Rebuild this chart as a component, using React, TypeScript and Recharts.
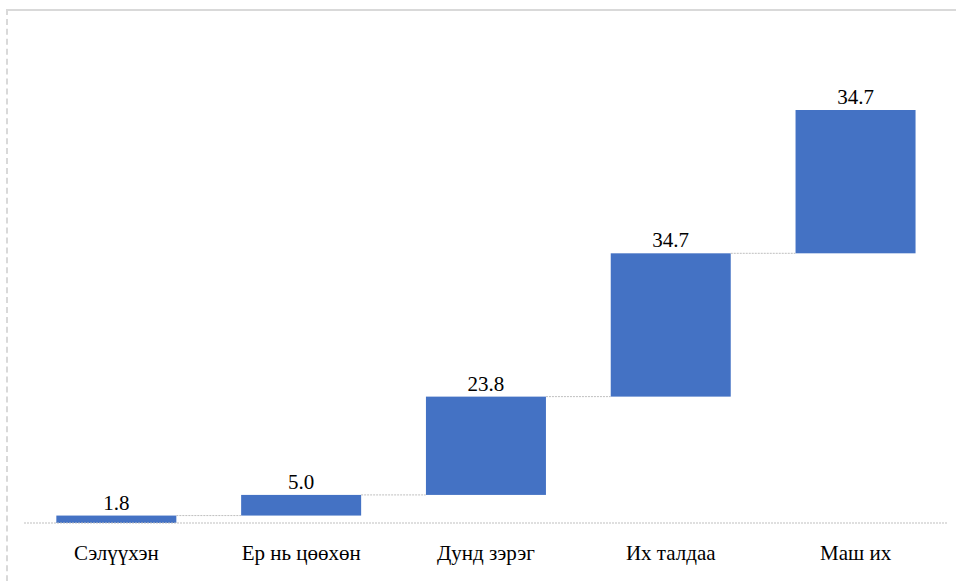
import React from 'react';
import { BarChart, Bar, XAxis, YAxis, LabelList } from 'recharts';

const categories = ['Сэлүүхэн', 'Ер нь цөөхөн', 'Дунд зэрэг', 'Их талдаа', 'Маш их'];
const values = [1.8, 5.0, 23.8, 34.7, 34.7];

const GAP_PCT = 0.175;
const BLUE = '#4472C4';
const GREY = '#bfbfbf';
const FONT = '"Times New Roman", "Liberation Serif", "DejaVu Serif", serif';

// running totals give the invisible base of each floating bar
const bases = values.map((_, i) => values.slice(0, i).reduce((a, b) => a + b, 0));

const data = categories.map((name, i) => ({
    name,
    base: bases[i],
    value: values[i],
    last: i === categories.length - 1,
}));

const WaterfallBar = (props: any) => {
    const { x, y, width, height, payload } = props;
    const band = width / (1 - 2 * GAP_PCT);
    const gap = band - width;
    return (
        <g>
            <rect x={x} y={y} width={width} height={height} fill={BLUE} />
            {!payload.last && (
                <line
                    x1={x + width}
                    x2={x + width + gap}
                    y1={y}
                    y2={y}
                    stroke={GREY}
                    strokeWidth={1}
                    strokeDasharray="2 1"
                />
            )}
        </g>
    );
};

const CatTick = (props: any) => {
    const { x, y, payload } = props;
    return (
        <text x={x} y={y} dy={17} textAnchor="middle" style={{ fontFamily: FONT, fontSize: 21 }} fill="#000">
            {payload.value}
        </text>
    );
};

const ValueLabel = (props: any) => {
    const { x, y, width, value } = props;
    return (
        <text x={x + width / 2} y={y - 6} textAnchor="middle" style={{ fontFamily: FONT, fontSize: 21 }} fill="#000">
            {Number(value).toFixed(1)}
        </text>
    );
};

const App = () => {
    return (
        <div style={{ position: 'absolute', left: 0, top: 0, width: 956, height: 581, background: '#fff', fontFamily: FONT }}>
            <div
                style={{
                    position: 'absolute',
                    left: 6,
                    top: 9,
                    width: 960,
                    height: 600,
                    borderTop: '2px solid #d9d9d9',
                    borderLeft: '2px dashed #d9d9d9',
                }}
            />
            <BarChart
                width={956}
                height={581}
                data={data}
                margin={{ top: 110, right: 8, left: 24, bottom: 28 }}
                barCategoryGap={`${GAP_PCT * 100}%`}
                style={{ position: 'absolute', left: 0, top: 0, fontFamily: FONT }}
            >
                <XAxis
                    dataKey="name"
                    height={30}
                    tickLine={false}
                    tickMargin={14}
                    axisLine={{ stroke: GREY, strokeDasharray: '2 1' }}
                    tick={<CatTick />}
                    interval={0}
                />
                <YAxis hide domain={[0, 100]} />
                <Bar dataKey="base" stackId="w" fill="transparent" isAnimationActive={false} />
                <Bar dataKey="value" stackId="w" shape={WaterfallBar} isAnimationActive={false}>
                    <LabelList dataKey="value" content={<ValueLabel />} />
                </Bar>
            </BarChart>
        </div>
    );
};

export default App;
